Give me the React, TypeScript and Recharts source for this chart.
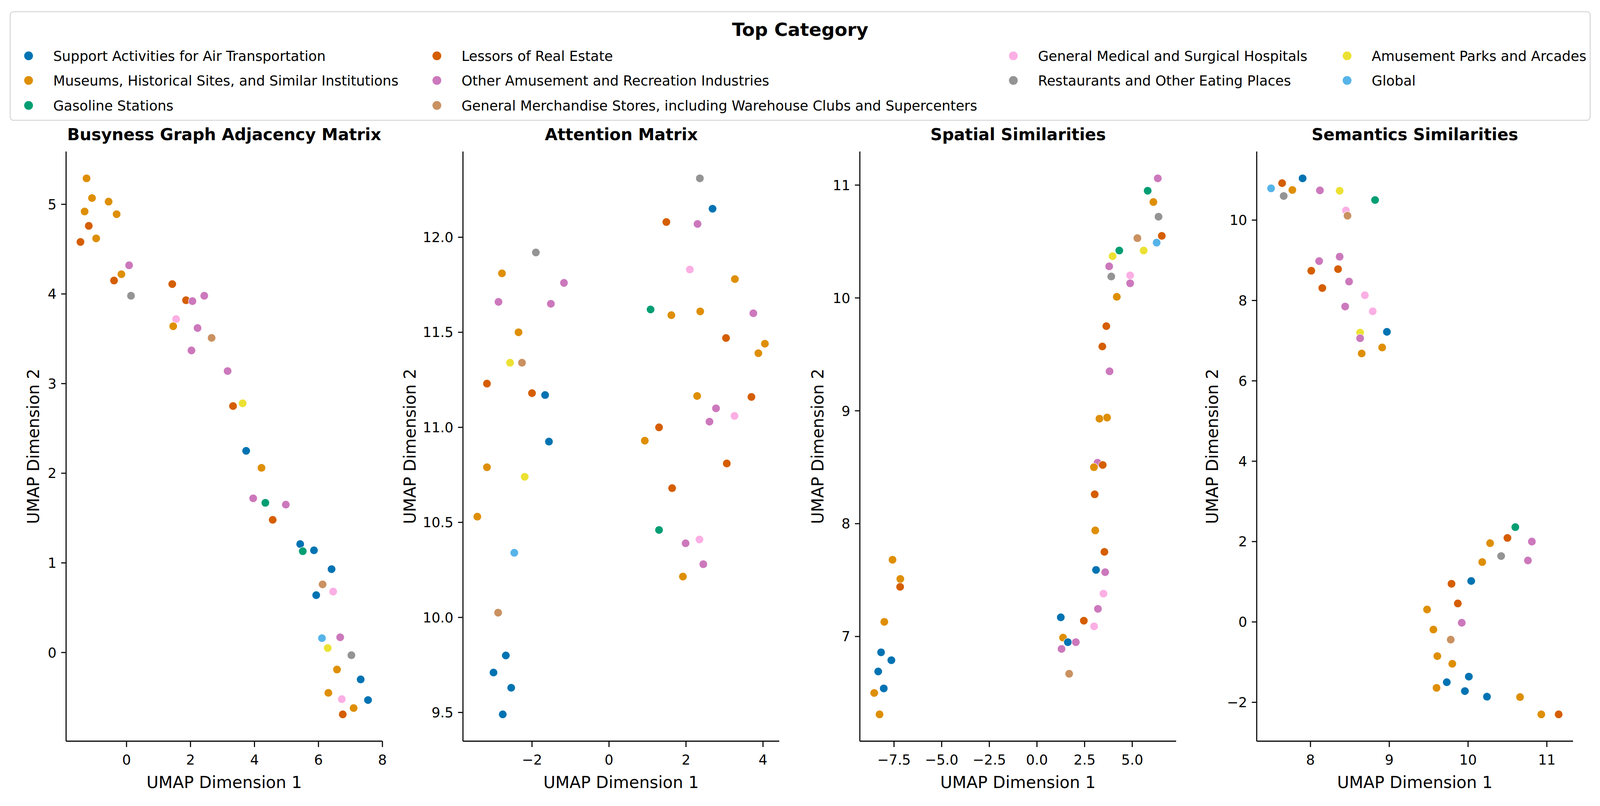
import React from 'react';
import { ScatterChart, Scatter, XAxis, YAxis } from 'recharts';

const categories = [
  'Support Activities for Air Transportation',
  'Museums, Historical Sites, and Similar Institutions',
  'Gasoline Stations',
  'Lessors of Real Estate',
  'Other Amusement and Recreation Industries',
  'General Merchandise Stores, including Warehouse Clubs and Supercenters',
  'General Medical and Surgical Hospitals',
  'Restaurants and Other Eating Places',
  'Amusement Parks and Arcades',
  'Global',
];
const colors = ['#0173b2', '#de8f05', '#029e73', '#d55e00', '#cc78bc', '#ca9161', '#fbafe4', '#949494', '#ece133', '#56b4e9'];
const legendColumns = [[0, 1, 2], [3, 4, 5], [6, 7], [8, 9]];

// Busyness Graph Adjacency Matrix
const busynessX = [-1.25, -1.08, -1.31, -0.56, -0.31, -1.18, -0.95, -1.44, 0.08, -0.16, -0.39, 0.14, 1.43, 1.86, 2.06, 2.43, 1.55, 1.46, 2.22, 2.66, 2.03, 3.16, 3.33, 3.63, 3.74, 4.22, 3.96, 4.34, 4.98, 4.57, 5.43, 5.51, 5.86, 6.41, 6.13, 6.46, 5.93, 6.11, 6.68, 6.29, 7.03, 6.58, 7.32, 6.31, 6.73, 7.55, 7.10, 6.76];
const busynessY = [5.29, 5.07, 4.92, 5.03, 4.89, 4.76, 4.62, 4.58, 4.32, 4.22, 4.15, 3.98, 4.11, 3.93, 3.92, 3.98, 3.72, 3.64, 3.62, 3.51, 3.37, 3.14, 2.75, 2.78, 2.25, 2.06, 1.72, 1.67, 1.65, 1.48, 1.21, 1.13, 1.14, 0.93, 0.76, 0.68, 0.64, 0.16, 0.17, 0.05, -0.03, -0.19, -0.30, -0.45, -0.52, -0.53, -0.62, -0.69];
const busynessCat = [1, 1, 1, 1, 1, 3, 1, 3, 4, 1, 3, 7, 3, 3, 4, 4, 6, 1, 4, 5, 4, 4, 3, 8, 0, 1, 4, 2, 4, 3, 0, 2, 0, 0, 5, 6, 0, 9, 4, 8, 7, 1, 0, 1, 6, 0, 1, 3];

// Attention Matrix
const attentionX = [2.36, 2.69, 1.49, 2.30, -1.90, -2.78, 2.10, 3.27, -1.17, -2.87, -1.51, 1.08, 1.62, 2.37, 3.75, -2.35, 3.04, 4.05, 3.88, -2.57, -2.26, -3.17, -2.00, -1.66, 2.29, 3.70, 2.78, 2.61, 3.26, 1.30, 0.93, -1.56, -3.17, -2.19, 3.06, 1.64, -3.42, 1.30, -2.46, 1.99, 2.35, 2.45, 1.92, -2.88, -2.68, -3.00, -2.54, -2.76];
const attentionY = [12.31, 12.15, 12.08, 12.07, 11.92, 11.81, 11.83, 11.78, 11.76, 11.66, 11.65, 11.62, 11.59, 11.61, 11.60, 11.50, 11.47, 11.44, 11.39, 11.34, 11.34, 11.23, 11.18, 11.17, 11.165, 11.16, 11.10, 11.03, 11.06, 11.00, 10.93, 10.925, 10.79, 10.74, 10.81, 10.68, 10.53, 10.46, 10.34, 10.39, 10.41, 10.28, 10.215, 10.025, 9.80, 9.71, 9.63, 9.49];
const attentionCat = [7, 0, 3, 4, 7, 1, 6, 1, 4, 4, 4, 2, 1, 1, 4, 1, 3, 1, 1, 8, 5, 3, 3, 0, 1, 3, 4, 4, 6, 3, 1, 0, 1, 8, 3, 3, 1, 2, 9, 4, 6, 4, 1, 5, 0, 0, 0, 0];

// Spatial Similarities
const spatialX = [6.34, 5.81, 6.11, 6.38, 6.55, 5.27, 6.28, 5.60, 4.32, 3.97, 3.79, 3.90, 4.89, 4.89, 4.19, 3.64, 3.43, 3.81, 3.28, 3.68, 3.18, 3.45, 2.99, 3.03, 3.06, 3.54, 3.10, 3.58, 3.49, 3.20, 2.46, 3.00, 1.25, 1.37, 1.62, 2.04, 1.29, 1.69, -7.58, -7.17, -7.18, -8.01, -8.18, -7.64, -8.33, -8.04, -8.54, -8.26];
const spatialY = [11.06, 10.95, 10.85, 10.72, 10.55, 10.53, 10.49, 10.42, 10.42, 10.37, 10.28, 10.19, 10.20, 10.13, 10.01, 9.75, 9.57, 9.35, 8.93, 8.94, 8.54, 8.52, 8.50, 8.26, 7.94, 7.75, 7.59, 7.57, 7.38, 7.245, 7.14, 7.09, 7.17, 6.99, 6.95, 6.95, 6.89, 6.67, 7.68, 7.51, 7.44, 7.13, 6.86, 6.79, 6.69, 6.54, 6.50, 6.31];
const spatialCat = [4, 2, 1, 7, 3, 5, 9, 8, 2, 8, 4, 7, 6, 4, 1, 3, 3, 4, 1, 1, 4, 3, 1, 3, 1, 3, 0, 4, 6, 4, 3, 6, 0, 1, 0, 4, 4, 5, 1, 1, 3, 1, 0, 0, 0, 0, 1, 1];

// Semantics Similarities
const semanticsX = [7.50, 7.64, 7.66, 7.77, 7.90, 8.12, 8.37, 8.82, 8.45, 8.47, 8.11, 8.37, 8.01, 8.35, 8.15, 8.49, 8.69, 8.44, 8.79, 8.63, 8.97, 8.63, 8.91, 8.65, 10.60, 10.50, 10.81, 10.28, 10.42, 10.76, 10.18, 10.04, 9.79, 9.87, 9.48, 9.92, 9.56, 9.78, 9.61, 9.80, 10.01, 9.73, 9.60, 9.96, 10.24, 10.66, 10.93, 11.15];
const semanticsY = [10.79, 10.92, 10.60, 10.75, 11.04, 10.74, 10.73, 10.50, 10.24, 10.11, 8.98, 9.09, 8.74, 8.78, 8.31, 8.47, 8.13, 7.85, 7.73, 7.20, 7.22, 7.06, 6.83, 6.68, 2.36, 2.09, 2.00, 1.96, 1.64, 1.53, 1.49, 1.02, 0.95, 0.46, 0.31, -0.02, -0.19, -0.44, -0.85, -1.04, -1.36, -1.50, -1.64, -1.72, -1.86, -1.87, -2.30, -2.30];
const semanticsCat = [9, 3, 7, 1, 0, 4, 8, 2, 6, 5, 4, 4, 3, 3, 3, 4, 6, 4, 6, 8, 0, 4, 1, 1, 2, 3, 4, 1, 7, 4, 1, 0, 3, 3, 1, 4, 1, 5, 1, 1, 0, 0, 1, 0, 0, 1, 1, 3];

const FONT = 'DejaVu Sans';

// layout is designed on a 4871x2064 canvas and scaled to the real viewport
const BASE_W = 4871;
const BASE_H = 2064;
const W = typeof window !== 'undefined' ? Math.min(window.innerWidth || BASE_W, BASE_W) : BASE_W;
const H = typeof window !== 'undefined' ? Math.min(window.innerHeight || BASE_H, BASE_H) : BASE_H;
const SX = W / BASE_W;
const SY = H / BASE_H;
const SF = Math.min(SX, SY);

const PLOT_W = 963;
const PLOT_H = 1510;
const PLOT_TOP = 388;
const CHART_TOP = 300;
const Y_AXIS_W = 200;
const X_AXIS_H = 166;
const RIGHT_PAD = 45;

const panels = [
  { title: 'Busyness Graph Adjacency Matrix', xs: busynessX, ys: busynessY, cats: busynessCat, xTicks: [0, 2, 4, 6, 8], yTicks: [0, 1, 2, 3, 4, 5], xDec: 0, yDec: 0, left: 201, yLabelDist: 100 },
  { title: 'Attention Matrix', xs: attentionX, ys: attentionY, cats: attentionCat, xTicks: [-2, 0, 2, 4], yTicks: [9.5, 10, 10.5, 11, 11.5, 12], xDec: 0, yDec: 1, left: 1410, yLabelDist: 161 },
  { title: 'Spatial Similarities', xs: spatialX, ys: spatialY, cats: spatialCat, xTicks: [-7.5, -5, -2.5, 0, 2.5, 5], yTicks: [7, 8, 9, 10, 11], xDec: 1, yDec: 0, left: 2618, yLabelDist: 128 },
  { title: 'Semantics Similarities', xs: semanticsX, ys: semanticsY, cats: semanticsCat, xTicks: [8, 9, 10, 11], yTicks: [-2, 0, 2, 4, 6, 8, 10], xDec: 0, yDec: 0, left: 3826, yLabelDist: 135 },
];

const padded = (vals: number[]): [number, number] => {
  const lo = Math.min(...vals);
  const hi = Math.max(...vals);
  const m = (hi - lo) * 0.05;
  return [lo - m, hi + m];
};

const fmt = (dec: number) => (v: number) => v.toFixed(dec).replace('-', '\u2212');

const yLabel = (dist: number) => (props: any) => {
  const vb = props.viewBox || {};
  const x = vb.x + vb.width - dist * SX;
  const y = vb.y + vb.height / 2;
  return (
    <text x={x} y={y} transform={`rotate(-90, ${x}, ${y})`} textAnchor="middle" dominantBaseline="central"
      fontFamily={FONT} fontSize={50 * SF} fill="#000">UMAP Dimension 2</text>
  );
};

const xLabel = (props: any) => {
  const vb = props.viewBox || {};
  return (
    <text x={vb.x + vb.width / 2} y={vb.y + 106 * SY} textAnchor="middle" dominantBaseline="central"
      fontFamily={FONT} fontSize={50 * SF} fill="#000">UMAP Dimension 1</text>
  );
};

const Dot = (props: any) => (
  <circle cx={props.cx} cy={props.cy} r={12.5 * SF} fill={colors[props.payload.cat]} stroke="#fff" strokeWidth={1.2 * SF} />
);

const Panel = ({ p }: { p: typeof panels[number] }) => {
  const data = p.xs.map((x, i) => ({ x, y: p.ys[i], cat: p.cats[i] }));
  const tickStyle = { fontSize: 42 * SF, fill: '#000', fontFamily: FONT };
  const lineStyle = { stroke: '#000', strokeWidth: 3.3 * SF };
  const yw = Y_AXIS_W * SX;
  const pw = PLOT_W * SX;
  const rp = RIGHT_PAD * SX;
  const top = (PLOT_TOP - CHART_TOP) * SY;
  return (
    <div style={{ position: 'absolute', left: (p.left - Y_AXIS_W) * SX, top: CHART_TOP * SY }}>
      <div style={{ position: 'absolute', left: yw, width: pw, top: 45 * SY - 30 * SF, textAlign: 'center', fontFamily: FONT, fontWeight: 'bold', fontSize: 50 * SF, lineHeight: `${60 * SF}px`, color: '#000', whiteSpace: 'nowrap' }}>
        {p.title}
      </div>
      <ScatterChart width={yw + pw + rp} height={top + PLOT_H * SY + X_AXIS_H * SY}
        margin={{ top, right: rp, bottom: 0, left: 0 }}>
        <XAxis type="number" dataKey="x" domain={padded(p.xs)} allowDataOverflow ticks={p.xTicks} interval={0}
          tickFormatter={fmt(p.xDec)} height={X_AXIS_H * SY} tick={tickStyle} tickSize={15 * SY} tickMargin={20 * SY}
          axisLine={lineStyle} tickLine={lineStyle} label={xLabel} />
        <YAxis type="number" dataKey="y" domain={padded(p.ys)} allowDataOverflow ticks={p.yTicks} interval={0}
          tickFormatter={fmt(p.yDec)} width={yw} tick={tickStyle} tickSize={15 * SX} tickMargin={14 * SX}
          axisLine={lineStyle} tickLine={lineStyle} label={yLabel(p.yLabelDist)} />
        <Scatter data={data} isAnimationActive={false} shape={Dot} />
      </ScatterChart>
    </div>
  );
};

const LegendBox = () => {
  const colX = [87, 1330, 3085, 4101];
  const rowY = [143, 206, 270];
  return (
    <svg width={W} height={320 * SY} style={{ position: 'absolute', left: 0, top: 0 }}>
      <rect x={31 * SX} y={30 * SY} width={4810 * SX} height={278 * SY} rx={10 * SF} fill="#fff" stroke="#d6d6d6" strokeWidth={3 * SF} />
      <text x={2436 * SX} y={75 * SY} textAnchor="middle" dominantBaseline="central" fontFamily={FONT} fontWeight="bold" fontSize={56 * SF} fill="#000">Top Category</text>
      {legendColumns.map((col, ci) =>
        col.map((cat, ri) => (
          <g key={cat}>
            <circle cx={colX[ci] * SX} cy={rowY[ri] * SY} r={14 * SF} fill={colors[cat]} stroke="#fff" strokeWidth={1.2 * SF} />
            <text x={(colX[ci] + 75) * SX} y={rowY[ri] * SY} dominantBaseline="central" fontFamily={FONT} fontSize={42 * SF} fill="#000">{categories[cat]}</text>
          </g>
        ))
      )}
    </svg>
  );
};

export default function App() {
  return (
    <div style={{ position: 'absolute', left: 0, top: 0, width: W, height: H, background: '#fff', overflow: 'hidden' }}>
      <LegendBox />
      {panels.map((p) => <Panel key={p.title} p={p} />)}
    </div>
  );
}
